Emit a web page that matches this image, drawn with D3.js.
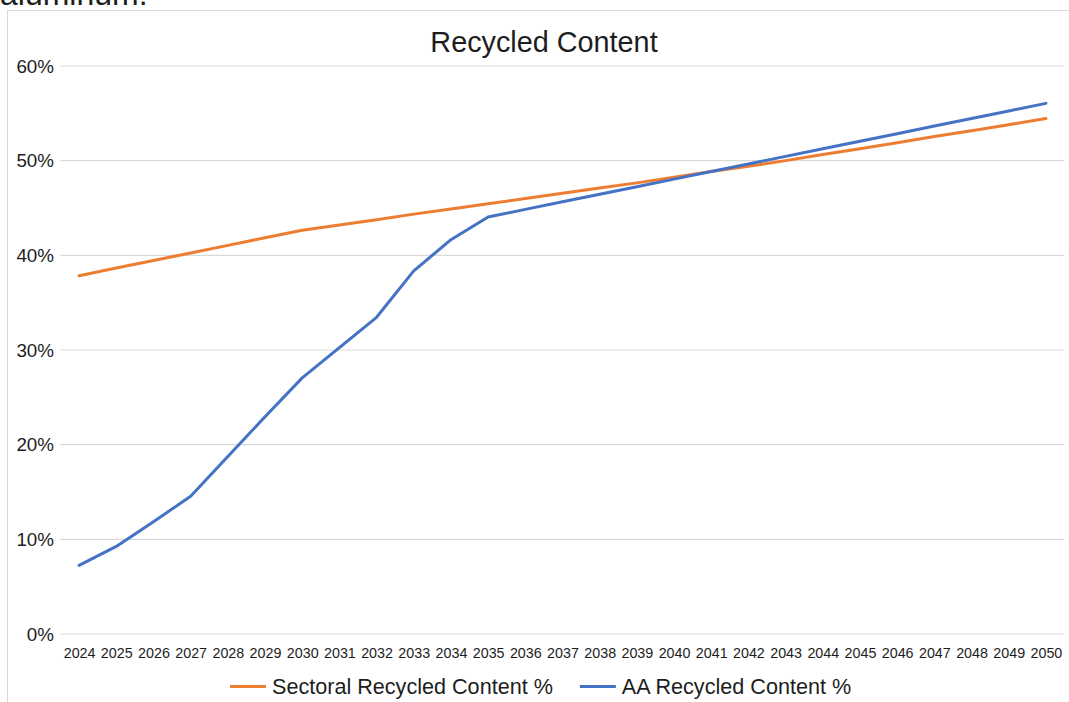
<!DOCTYPE html>
<html>
<head>
<meta charset="utf-8">
<script src="https://cdn.jsdelivr.net/npm/d3@7"></script>
<style>
  html, body { margin: 0; padding: 0; background: #fff; overflow: hidden; }
  svg { display: block; font-family: "Liberation Sans", Arial, Helvetica, sans-serif; }
</style>
</head>
<body>
<svg id="chart" width="1069" height="702"></svg>
<script>
const years = ["2024","2025","2026","2027","2028","2029","2030","2031","2032","2033","2034","2035","2036","2037","2038","2039","2040","2041","2042","2043","2044","2045","2046","2047","2048","2049","2050"];
const sectoral = [37.8,38.6,39.4,40.2,41.0,41.8,42.6,43.15,43.7,44.3,44.85,45.4,45.95,46.5,47.05,47.6,48.2,48.8,49.35,49.95,50.6,51.2,51.85,52.5,53.1,53.75,54.4];
const aa = [7.2,9.2,11.8,14.5,18.7,22.9,27.0,30.2,33.4,38.3,41.6,44.0,44.8,45.6,46.4,47.2,48.0,48.8,49.6,50.4,51.2,52.0,52.8,53.6,54.4,55.2,56.0];
const yTicks = [0,10,20,30,40,50,60];
const seriesNames = ["Sectoral Recycled Content %","AA Recycled Content %"];
const seriesColors = ["#ED7D31","#4472C4"];
const chartTitle = "Recycled Content";
const topText = "aluminum.";

const svg = d3.select("#chart");
const textColor = "#1d1d1d";

// cut-off text above the chart frame (as in the reference)
svg.append("text").attr("x", 0).attr("y", 5)
  .attr("font-size", 32).attr("fill", textColor).text(topText);

// chart frame
svg.append("rect").attr("x", 7.5).attr("y", 10.5).attr("width", 1100).attr("height", 760)
  .attr("fill", "#fff").attr("stroke", "#d9d9d9").attr("stroke-width", 1);

const x = d3.scalePoint().domain(years).range([60.5, 1064.5]).padding(0.5);
const y = d3.scaleLinear().domain([0, 60]).range([633.5, 65.5]);

// gridlines
const grid = svg.append("g")
  .attr("transform", "translate(60.5,0)")
  .call(d3.axisLeft(y).tickValues(yTicks).tickSize(-(1064.5 - 60.5)).tickFormat(""));
grid.select(".domain").remove();
grid.selectAll(".tick line").attr("stroke", "#d9d9d9").attr("stroke-width", 1.2);

// y labels
const yAxis = svg.append("g").attr("transform", "translate(54,0)")
  .call(d3.axisLeft(y).tickValues(yTicks).tickSize(0).tickPadding(0).tickFormat(d => d + "%"));
yAxis.select(".domain").remove();
yAxis.selectAll("text").attr("font-size", 18.8).attr("fill", textColor)
  .attr("font-family", "Liberation Sans, Arial, sans-serif").attr("dy", "0.35em");

// x labels
const xAxis = svg.append("g").attr("transform", "translate(0,633.5)")
  .call(d3.axisBottom(x).tickSize(0).tickPadding(0));
xAxis.select(".domain").remove();
xAxis.selectAll("text").attr("font-size", 14.3).attr("fill", textColor)
  .attr("font-family", "Liberation Sans, Arial, sans-serif").attr("dy", null).attr("y", 24);

// lines
const line = d3.line().x((d, i) => x(years[i])).y(d => y(d));
[sectoral, aa].forEach((s, k) => {
  svg.append("path").datum(s).attr("d", line)
    .attr("fill", "none").attr("stroke", seriesColors[k]).attr("stroke-width", 3)
    .attr("stroke-linejoin", "round").attr("stroke-linecap", "round");
});

// title
svg.append("text").attr("x", 544).attr("y", 51.5).attr("text-anchor", "middle")
  .attr("font-size", 28.8).attr("fill", textColor).text(chartTitle);

// legend
const lg = svg.append("g");
let lx = 230;
seriesNames.forEach((name, k) => {
  lg.append("line").attr("x1", lx).attr("x2", lx + 36).attr("y1", 686.5).attr("y2", 686.5)
    .attr("stroke", seriesColors[k]).attr("stroke-width", 3);
  const t = lg.append("text").attr("x", lx + 42).attr("y", 694).attr("font-size", 21.6)
    .attr("fill", textColor).text(name);
  lx = lx + 42 + t.node().getComputedTextLength() + 27;
});
</script>
</body>
</html>
